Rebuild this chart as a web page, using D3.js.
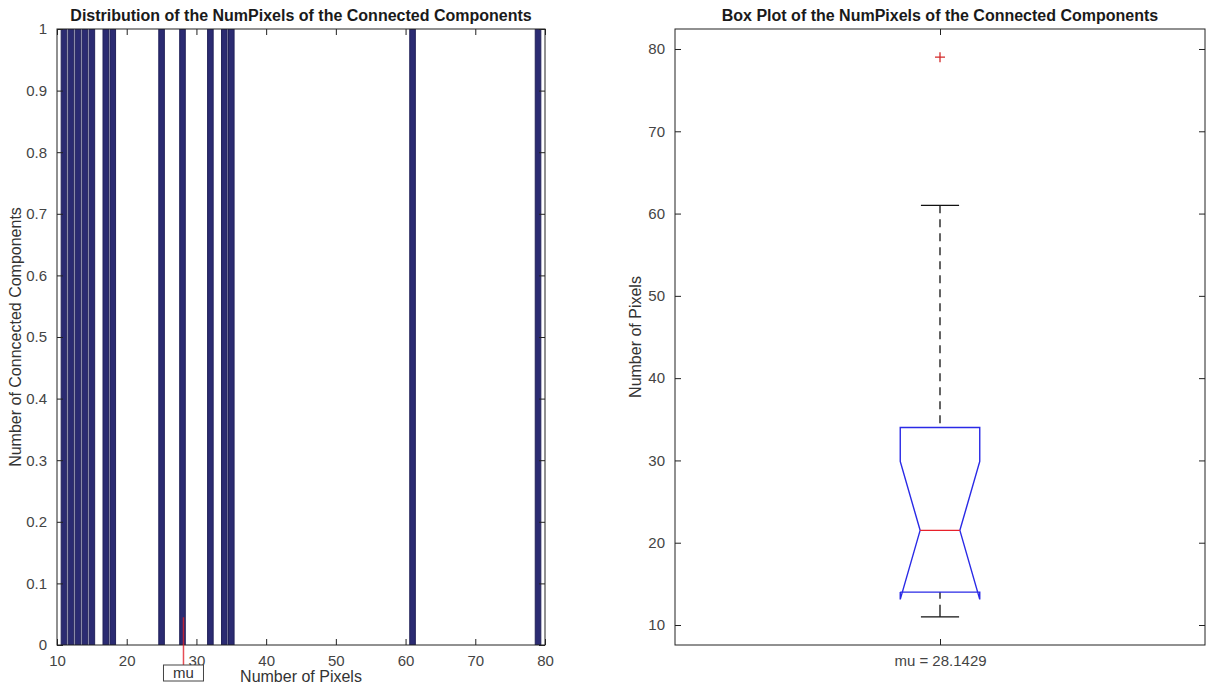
<!DOCTYPE html>
<html>
<head>
<meta charset="utf-8">
<script src="https://cdn.jsdelivr.net/npm/d3@7"></script>
<style>
  html, body { margin: 0; padding: 0; background: #fff; }
  svg { display: block; font-family: "Liberation Sans", Arial, Helvetica, sans-serif; }
  .tick text { fill: #444; }
</style>
</head>
<body>
<svg id="fig" width="1210" height="692"></svg>
<script>
// Pixel counts of the connected components
const pixelCounts = [11, 12, 13, 14, 15, 17, 18, 25, 28, 32, 34, 35, 61, 79];

// Axis settings
const histXTicks = [10, 20, 30, 40, 50, 60, 70, 80];
const histYTicks = [0, 0.1, 0.2, 0.3, 0.4, 0.5, 0.6, 0.7, 0.8, 0.9, 1];
const boxYTicks = [10, 20, 30, 40, 50, 60, 70, 80];
const histXDomain = [10, 80];
const histYDomain = [0, 1];
const boxYDomain = [7.57, 82.43];
const muMarkerTop = 0.045;

const titles = [
  "Distribution of the NumPixels of the Connected Components",
  "Box Plot of the NumPixels of the Connected Components"
];

const svg = d3.select("#fig");
const tickLen = 6;
const fontTick = 15;
const fontLabel = 16;

// ---------- Left panel: distribution ----------
const L = { x0: 57, x1: 545, y0: 29, y1: 645 };
const hx = d3.scaleLinear().domain(histXDomain).range([L.x0, L.x1]);
const hy = d3.scaleLinear().domain(histYDomain).range([L.y1, L.y0]);

svg.append("defs").append("clipPath").attr("id", "clipL")
  .append("rect").attr("x", L.x0).attr("y", L.y0)
  .attr("width", L.x1 - L.x0).attr("height", L.y1 - L.y0);

const counts = Array.from(d3.rollup(pixelCounts, v => v.length, d => d), ([value, count]) => ({ value, count }))
  .sort((a, b) => a.value - b.value);
const barW = 0.8;

const gL = svg.append("g");
gL.append("g").attr("clip-path", "url(#clipL)")
  .selectAll("rect").data(counts).join("rect")
  .attr("x", d => hx(d.value - barW / 2))
  .attr("width", d => hx(d.value + barW / 2) - hx(d.value - barW / 2))
  .attr("y", d => hy(d.count))
  .attr("height", d => hy(0) - hy(d.count))
  .attr("fill", "#2b2b72")
  .attr("stroke", "#22225a")
  .attr("stroke-width", 1);

const fmtHistY = d => d === 0 ? "0" : d === 1 ? "1" : d3.format(".1f")(d);

function styleAxis(g) {
  g.select(".domain").remove();
  g.selectAll(".tick line").attr("stroke", "#222").attr("stroke-width", 1);
  g.selectAll(".tick text").attr("font-size", fontTick);
}

// ticks on all four sides, pointing inward
gL.append("g").attr("transform", `translate(0,${L.y1})`)
  .call(d3.axisBottom(hx).tickValues(histXTicks).tickSizeInner(-tickLen).tickSizeOuter(0).tickPadding(10))
  .call(styleAxis);
gL.append("g").attr("transform", `translate(0,${L.y0})`)
  .call(d3.axisTop(hx).tickValues(histXTicks).tickSizeInner(-tickLen).tickSizeOuter(0).tickFormat(""))
  .call(styleAxis);
gL.append("g").attr("transform", `translate(${L.x0},0)`)
  .call(d3.axisLeft(hy).tickValues(histYTicks).tickSizeInner(-tickLen).tickSizeOuter(0).tickPadding(10).tickFormat(fmtHistY))
  .call(styleAxis);
gL.append("g").attr("transform", `translate(${L.x1},0)`)
  .call(d3.axisRight(hy).tickValues(histYTicks).tickSizeInner(-tickLen).tickSizeOuter(0).tickFormat(""))
  .call(styleAxis);

gL.append("rect").attr("x", L.x0).attr("y", L.y0)
  .attr("width", L.x1 - L.x0).attr("height", L.y1 - L.y0)
  .attr("fill", "none").attr("stroke", "#222").attr("stroke-width", 1);

// mean marker with its label box
const mu = d3.mean(pixelCounts);
const muBoxTop = L.y1 + 20, muBoxH = 16, muBoxW = 40;
gL.append("line")
  .attr("x1", hx(mu)).attr("x2", hx(mu))
  .attr("y1", hy(muMarkerTop)).attr("y2", muBoxTop)
  .attr("stroke", "#e0202a").attr("stroke-width", 1.5).attr("stroke-opacity", 0.8);
gL.append("rect")
  .attr("x", hx(mu) - muBoxW / 2).attr("y", muBoxTop)
  .attr("width", muBoxW).attr("height", muBoxH)
  .attr("fill", "#fff").attr("stroke", "#444").attr("stroke-width", 1);
gL.append("text")
  .attr("x", hx(mu)).attr("y", muBoxTop + muBoxH - 3)
  .attr("text-anchor", "middle").attr("font-size", fontTick).attr("fill", "#333")
  .text("mu");

gL.append("text")
  .attr("x", (L.x0 + L.x1) / 2).attr("y", 682)
  .attr("text-anchor", "middle").attr("font-size", fontLabel).attr("fill", "#333")
  .text("Number of Pixels");
gL.append("text")
  .attr("transform", `translate(21,${(L.y0 + L.y1) / 2}) rotate(-90)`)
  .attr("text-anchor", "middle").attr("font-size", fontLabel).attr("fill", "#333")
  .text("Number of Conncected Components");
gL.append("text")
  .attr("x", (L.x0 + L.x1) / 2).attr("y", 21)
  .attr("text-anchor", "middle").attr("font-size", 16).attr("font-weight", "bold").attr("fill", "#1a1a1a")
  .text(titles[0]);

// ---------- Right panel: notched box plot ----------
const R = { x0: 675, x1: 1205, y0: 29, y1: 645 };
const bx = d3.scaleLinear().domain([0.5, 1.5]).range([R.x0, R.x1]);
const by = d3.scaleLinear().domain(boxYDomain).range([R.y1, R.y0]);

// quantiles using the (i - 0.5) / n plotting positions
function prctile(sorted, p) {
  const n = sorted.length;
  const pos = p * n + 0.5;
  if (pos <= 1) return sorted[0];
  if (pos >= n) return sorted[n - 1];
  const lo = Math.floor(pos), f = pos - lo;
  return sorted[lo - 1] + f * (sorted[lo] - sorted[lo - 1]);
}
const sorted = pixelCounts.slice().sort((a, b) => a - b);
const q1 = prctile(sorted, 0.25);
const med = d3.median(sorted);
const q3 = prctile(sorted, 0.75);
const iqr = q3 - q1;
const hiFence = q3 + 1.5 * iqr, loFence = q1 - 1.5 * iqr;
const whiskerHi = d3.max(sorted.filter(v => v <= hiFence));
const whiskerLo = d3.min(sorted.filter(v => v >= loFence));
const outliers = sorted.filter(v => v > hiFence || v < loFence);
const notchLo = med - 1.57 * iqr / Math.sqrt(sorted.length);
const notchHi = med + 1.57 * iqr / Math.sqrt(sorted.length);

const halfW = 0.075, notchHalfW = 0.0375, capHalfW = 0.036;
const gR = svg.append("g");

// whiskers
gR.append("line").attr("x1", bx(1)).attr("x2", bx(1))
  .attr("y1", by(whiskerHi)).attr("y2", by(q3))
  .attr("stroke", "#111").attr("stroke-width", 1.3).attr("stroke-dasharray", "8,6");
gR.append("line").attr("x1", bx(1)).attr("x2", bx(1))
  .attr("y1", by(whiskerLo)).attr("y2", by(q1))
  .attr("stroke", "#111").attr("stroke-width", 1.3).attr("stroke-dasharray", "12,6");
[whiskerHi, whiskerLo].forEach(w => {
  gR.append("line").attr("x1", bx(1 - capHalfW)).attr("x2", bx(1 + capHalfW))
    .attr("y1", by(w)).attr("y2", by(w))
    .attr("stroke", "#111").attr("stroke-width", 1.3);
});

// notched box outline
const boxPts = [
  [1 - halfW, q1], [1 - halfW, notchLo], [1 - notchHalfW, med], [1 - halfW, notchHi], [1 - halfW, q3],
  [1 + halfW, q3], [1 + halfW, notchHi], [1 + notchHalfW, med], [1 + halfW, notchLo], [1 + halfW, q1],
  [1 - halfW, q1]
];
gR.append("path")
  .attr("d", d3.line().x(d => bx(d[0])).y(d => by(d[1]))(boxPts))
  .attr("fill", "none").attr("stroke", "#2a2ae6").attr("stroke-width", 1.4)
  .attr("stroke-linejoin", "miter");

// median
gR.append("line").attr("x1", bx(1 - notchHalfW)).attr("x2", bx(1 + notchHalfW))
  .attr("y1", by(med)).attr("y2", by(med))
  .attr("stroke", "#e8202a").attr("stroke-width", 1.3);

// outliers
const plusArm = 5;
gR.selectAll("path.outlier").data(outliers).join("path")
  .attr("class", "outlier")
  .attr("d", d => `M${bx(1) - plusArm},${by(d)}H${bx(1) + plusArm}M${bx(1)},${by(d) - plusArm}V${by(d) + plusArm}`)
  .attr("stroke", "#d42a2a").attr("stroke-width", 1.3).attr("fill", "none");

// axes
const muLabel = "mu = " + d3.format(".6~g")(mu);
gR.append("g").attr("transform", `translate(0,${R.y1})`)
  .call(d3.axisBottom(bx).tickValues([1]).tickSizeInner(-tickLen).tickSizeOuter(0).tickPadding(10).tickFormat(() => muLabel))
  .call(styleAxis);
gR.append("g").attr("transform", `translate(0,${R.y0})`)
  .call(d3.axisTop(bx).tickValues([1]).tickSizeInner(-tickLen).tickSizeOuter(0).tickFormat(""))
  .call(styleAxis);
gR.append("g").attr("transform", `translate(${R.x0},0)`)
  .call(d3.axisLeft(by).tickValues(boxYTicks).tickSizeInner(-tickLen).tickSizeOuter(0).tickPadding(10))
  .call(styleAxis);
gR.append("g").attr("transform", `translate(${R.x1},0)`)
  .call(d3.axisRight(by).tickValues(boxYTicks).tickSizeInner(-tickLen).tickSizeOuter(0).tickFormat(""))
  .call(styleAxis);

gR.append("rect").attr("x", R.x0).attr("y", R.y0)
  .attr("width", R.x1 - R.x0).attr("height", R.y1 - R.y0)
  .attr("fill", "none").attr("stroke", "#222").attr("stroke-width", 1);

gR.append("text")
  .attr("transform", `translate(641,${(R.y0 + R.y1) / 2}) rotate(-90)`)
  .attr("text-anchor", "middle").attr("font-size", fontLabel).attr("fill", "#333")
  .text("Number of Pixels");
gR.append("text")
  .attr("x", (R.x0 + R.x1) / 2).attr("y", 21)
  .attr("text-anchor", "middle").attr("font-size", 16).attr("font-weight", "bold").attr("fill", "#1a1a1a")
  .text(titles[1]);
</script>
</body>
</html>
